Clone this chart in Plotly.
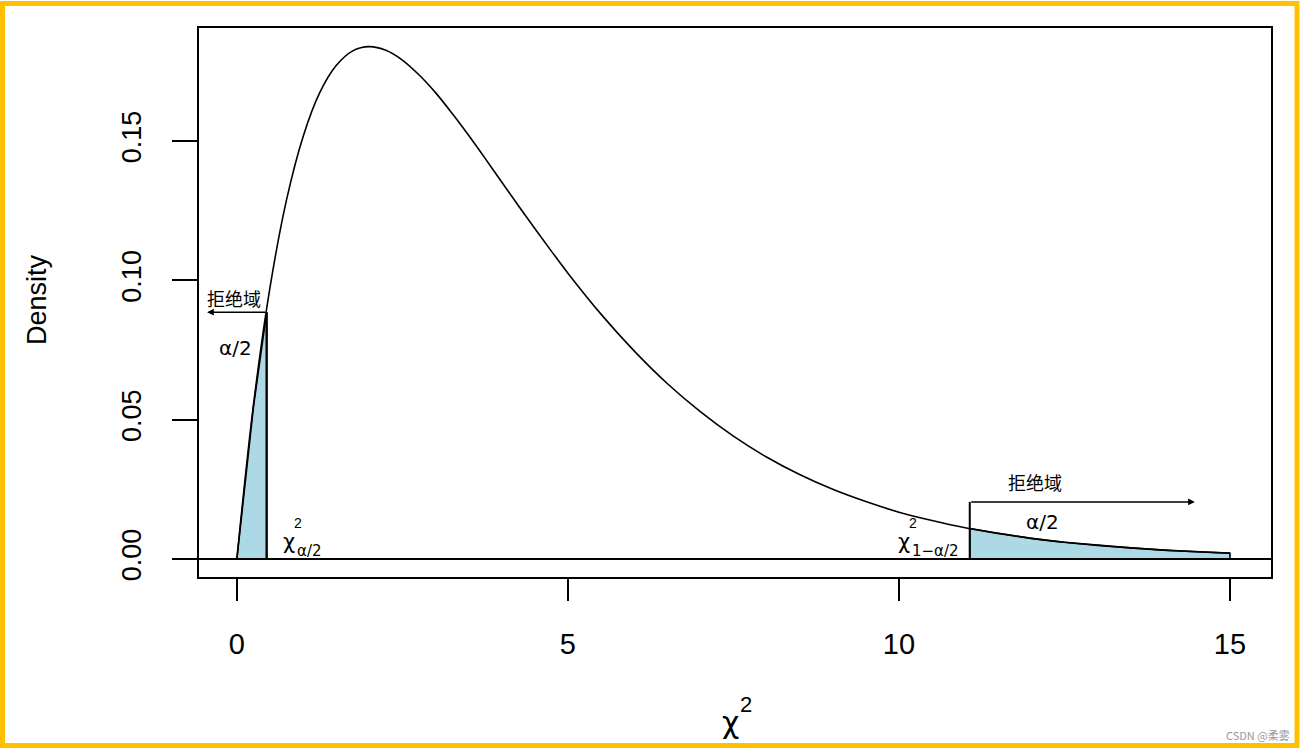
import plotly.graph_objects as go

# 卡方分布密度曲线（从图上读取的点）
chi_x = [0, 0.25, 0.5, 0.75, 1.0, 1.25, 1.5, 1.75, 2.0, 2.25, 2.5, 2.75, 3.0, 3.25,
         3.5, 3.75, 4.0, 4.25, 4.5, 4.75, 5.0, 5.5, 6.0, 6.5, 7.0, 7.5, 8.0, 8.5,
         9.0, 9.5, 10.0, 10.5, 11.0, 11.5, 12.0, 12.5, 13.0, 13.5, 14.0, 14.5, 15.0]
density = [0, 0.0552, 0.0974, 0.1289, 0.1516, 0.1673, 0.1771, 0.1824, 0.1839, 0.1826,
           0.1791, 0.1738, 0.1674, 0.1600, 0.1521, 0.1438, 0.1353, 0.1269, 0.1186,
           0.1105, 0.1026, 0.0879, 0.0747, 0.0630, 0.0529, 0.0441, 0.0366, 0.0303,
           0.0250, 0.0206, 0.0168, 0.0138, 0.0112, 0.0092, 0.0074, 0.0060, 0.0049,
           0.0040, 0.0032, 0.0026, 0.0021]

# 临界值与两侧拒绝域
lower_crit = 0.45
upper_crit = 11.07
left_tail_x = [0, 0.25, 0.45]
left_tail_y = [0, 0.0545, 0.0886]
right_tail_x = [11.07, 11.5, 12.0, 12.5, 13.0, 13.5, 14.0, 14.5, 15.0]
right_tail_y = [0.0110, 0.0092, 0.0074, 0.0060, 0.0049, 0.0040, 0.0032, 0.0026, 0.0021]

x_ticks = [0, 5, 10, 15]
y_ticks = [0.00, 0.05, 0.10, 0.15]
y_tick_text = ["0.00", "0.05", "0.10", "0.15"]

FONT = "Liberation Sans, Arial, sans-serif"
GREEK = "DejaVu Sans, sans-serif"
CJK = "Noto Sans CJK SC, sans-serif"
FILL = "#ADD8E6"

fig = go.Figure()

# 左侧阴影
fig.add_trace(go.Scatter(
    x=left_tail_x + [lower_crit, left_tail_x[0]],
    y=left_tail_y + [0, 0],
    fill="toself", fillcolor=FILL, mode="lines",
    line=dict(color="black", width=1.6), hoverinfo="skip", showlegend=False))

# 右侧阴影
fig.add_trace(go.Scatter(
    x=[upper_crit] + right_tail_x + [right_tail_x[-1], upper_crit],
    y=[0] + right_tail_y + [0, 0],
    fill="toself", fillcolor=FILL, mode="lines",
    line=dict(color="black", width=1.6), hoverinfo="skip", showlegend=False))

# 密度曲线
fig.add_trace(go.Scatter(
    x=chi_x, y=density, mode="lines",
    line=dict(color="black", width=1.6, shape="spline"), showlegend=False))

# 临界值竖线
fig.add_shape(type="line", x0=lower_crit, x1=lower_crit, y0=0, y1=left_tail_y[-1],
              line=dict(color="black", width=2.2))
fig.add_shape(type="line", x0=upper_crit, x1=upper_crit, y0=0, y1=0.0205,
              line=dict(color="black", width=2))
# y = 0 水平线
fig.add_shape(type="line", xref="paper", x0=0, x1=1, y0=0, y1=0,
              line=dict(color="black", width=1.8))

# 箭头
fig.add_annotation(x=-0.45, y=left_tail_y[-1], ax=lower_crit, ay=left_tail_y[-1],
                   xref="x", yref="y", axref="x", ayref="y", text="",
                   showarrow=True, arrowhead=2, arrowsize=0.9, arrowwidth=1.5,
                   arrowcolor="black")
fig.add_annotation(x=14.47, y=0.0205, ax=upper_crit, ay=0.0205,
                   xref="x", yref="y", axref="x", ayref="y", text="",
                   showarrow=True, arrowhead=2, arrowsize=0.9, arrowwidth=1.5,
                   arrowcolor="black")

def label(x, y, text, size, font=FONT, xanchor="center", **kw):
    fig.add_annotation(x=x, y=y, text=text, showarrow=False, xanchor=xanchor,
                       yanchor="middle", font=dict(family=font, size=size, color="black"),
                       **kw)

label(-0.045, 0.0937, "拒绝域", 18, CJK)
label(12.06, 0.0275, "拒绝域", 18, CJK)
label(-0.015, 0.0757, "α/2", 20, GREEK)
label(12.17, 0.0133, "α/2", 20, GREEK)

# 左临界值标签 χ²_{α/2}
label(0.66, 0.0060, "χ", 21, GREEK, xanchor="left")
label(0.84, 0.0128, "2", 14, xanchor="left")
label(0.88, 0.0030, "α/2", 15, GREEK, xanchor="left")
# 右临界值标签 χ²_{1-α/2}
label(9.96, 0.0060, "χ", 21, GREEK, xanchor="left")
label(10.12, 0.0128, "2", 14, xanchor="left")
label(10.17, 0.0028, "1−α/2", 15, GREEK, xanchor="left")

# 坐标轴标题（像素位置换算成 paper 坐标）
def page_text(px, py, text, size, font=FONT, color="black", **kw):
    fig.add_annotation(xref="paper", yref="paper", x=(px - 199) / 1072,
                       y=(577 - py) / 549, text=text, showarrow=False,
                       yanchor="middle", font=dict(family=font, size=size, color=color),
                       **kw)

page_text(730, 722, "χ", 30, GREEK, xanchor="center")
page_text(746, 704, "2", 22, xanchor="center")
page_text(37, 300, "Density", 27, textangle=-90, xanchor="center")
page_text(1292, 735, "CSDN @柔雾", 11, CJK, color="#999999", xanchor="right")

# 外框（黄色）
fig.add_shape(type="rect", xref="paper", yref="paper",
              x0=(2.5 - 199) / 1072, x1=(1297 - 199) / 1072,
              y0=(577 - 745.5) / 549, y1=(577 - 3.5) / 549,
              line=dict(color="#FFC000", width=5), layer="above")

fig.update_xaxes(range=[-0.572, 15.62], tickvals=x_ticks, ticks="outside", ticklen=22,
                 tickwidth=1.6, tickcolor="black", showgrid=False, zeroline=False,
                 showline=True, linecolor="black", linewidth=2, mirror=True,
                 tickfont=dict(family=FONT, size=29, color="black"),
                 ticklabelstandoff=18)
fig.update_yaxes(range=[-0.00646, 0.1906], tickvals=y_ticks, ticktext=y_tick_text,
                 ticks="outside", ticklen=25, tickwidth=1.6, tickcolor="black",
                 tickangle=-90, showgrid=False, zeroline=False,
                 showline=True, linecolor="black", linewidth=2, mirror=True,
                 tickfont=dict(family=FONT, size=27, color="black"),
                 ticklabelstandoff=20)

fig.update_layout(width=1302, height=751, margin=dict(l=199, r=31, t=28, b=174),
                  plot_bgcolor="white", paper_bgcolor="white", showlegend=False)

# 去掉页面默认边距，使图与窗口对齐
fig.write_html("out.html", config={"displayModeBar": False},
               post_script="document.body.style.margin='0';")
